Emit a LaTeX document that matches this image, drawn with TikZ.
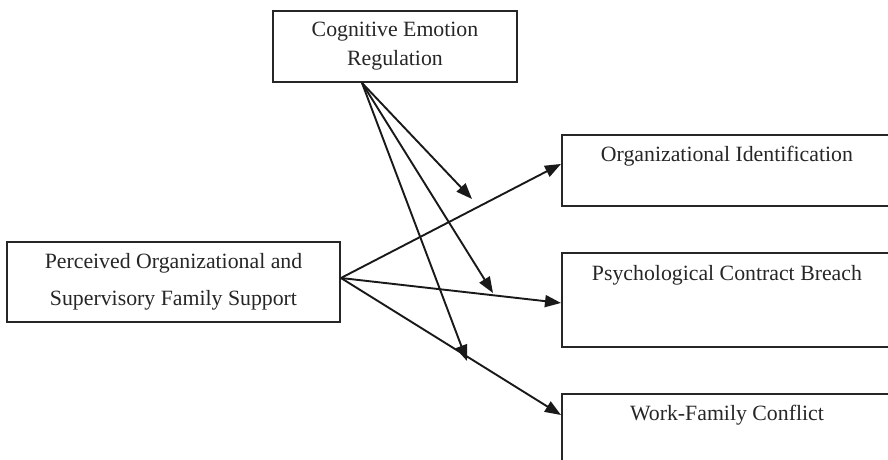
\documentclass[tikz,border=0pt]{standalone}
\usepackage{fontspec}
\setmainfont{Liberation Serif}
\usetikzlibrary{arrows.meta}

\begin{document}
\begin{tikzpicture}[x=1pt,y=-1pt,->,>={Triangle[length=16pt,width=12pt]},line width=1.9pt,color=black!90,
                    main box/.style={draw=black!85,rectangle,inner sep=0pt,align=center,text=black!85,font=\fontsize{21.8}{29}\selectfont},
                    out box/.style={main box,anchor=north west,minimum width=330pt},
                    box text/.style={text=black!85,font=\fontsize{21.8}{26}\selectfont}]
% Frame of the figure
\clip (0,0) rectangle (888,460);

% Create nodes for the constructs
\node[main box,minimum width=244pt,minimum height=71pt] (cer) at (395,46.5) {Cognitive Emotion\\Regulation};
\node[main box,minimum width=333pt,minimum height=80pt,font=\fontsize{21.8}{37}\selectfont] (pofs) at (173.5,282) {Perceived Organizational and\\Supervisory Family Support};
\node[out box,minimum height=71pt] (oi) at (561,134) {};
\node[out box,minimum height=94pt] (pcb) at (561,252) {};
\node[out box,minimum height=94pt] (wfc) at (561,393) {};
\node[box text] (oitext) at ([yshift=-22pt]oi.north) {Organizational Identification};
\node[box text] (pcbtext) at ([yshift=-23pt]pcb.north) {Psychological Contract Breach};
\node[box text] (wfctext) at ([yshift=-22pt]wfc.north) {Work-Family Conflict};

% Points where the moderator arrows end
\coordinate (m1) at (472,199);
\coordinate (m2) at (493,293);
\coordinate (m3) at (467,361);

% Create edges for the model
\path
([yshift=4pt]pofs.east) edge ([yshift=6.5pt]oi.west)
([yshift=4pt]pofs.east) edge ([yshift=-3pt]pcb.west)
([yshift=4pt]pofs.east) edge ([yshift=-22pt]wfc.north west)
([xshift=-33pt]cer.south) edge (m1)
([xshift=-33pt]cer.south) edge (m2)
([xshift=-33pt]cer.south) edge (m3);
\end{tikzpicture}
\end{document}
